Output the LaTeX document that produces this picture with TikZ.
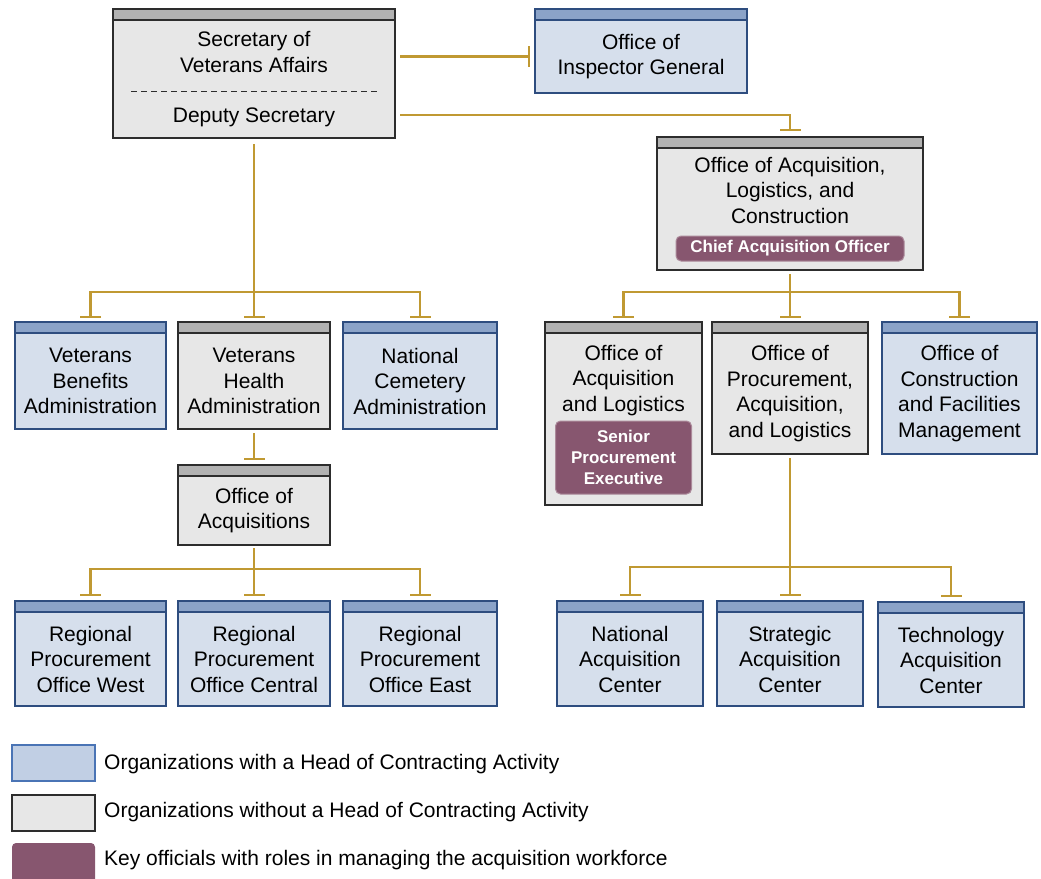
\documentclass[tikz,border=0pt]{standalone}
\usepackage{fontspec}
\setmainfont{Liberation Sans}
\usetikzlibrary{positioning,arrows.meta}

\definecolor{hcafill}{RGB}{214,223,236}
\definecolor{hcaline}{RGB}{46,77,127}
\definecolor{hcahead}{RGB}{139,163,200}
\definecolor{orgfill}{RGB}{231,231,231}
\definecolor{orgline}{RGB}{45,45,45}
\definecolor{orghead}{RGB}{178,178,178}
\definecolor{keyfill}{RGB}{135,86,111}
\definecolor{legfill}{RGB}{193,207,228}
\definecolor{legline}{RGB}{74,116,181}
\definecolor{connline}{RGB}{192,153,50}

\newcommand{\boxfont}{\fontsize{21}{25.5}\selectfont}
\newcommand{\keyfont}{\fontsize{17}{21}\selectfont\bfseries}

\begin{document}
\begin{tikzpicture}[
	%	style def
    x=1pt, y=-1pt,
    orgbox/.style={draw, line width=1.9pt, outer sep=0pt, inner sep=0pt, align=center, font=\boxfont},
    hca/.style={orgbox, fill=hcafill, draw=hcaline},
    nohca/.style={orgbox, fill=orgfill, draw=orgline},
    hcahdr/.style={fill=hcahead, draw=hcaline, line width=1.9pt},
    nohcahdr/.style={fill=orghead, draw=orgline, line width=1.9pt},
    keyrole/.style={fill=keyfill, draw=keyfill!70!white, line width=1pt, rounded corners=5pt, text=white, font=\keyfont, align=center, inner sep=0pt},
    conn/.style={draw=connline, line width=2.1pt},
    tee/.style={conn, -{Bar[width=21pt]}},
    legtext/.style={font=\boxfont, anchor=west, inner sep=0pt}
    ]
    \useasboundingbox (0,0) rectangle (1041,878);

	% top level
	\node[nohca, minimum width=282, minimum height=118] (sva) at (254,79)
	    {Secretary of\\Veterans Affairs\\[24.5pt]Deputy Secretary};
	\node[hca, minimum width=212, minimum height=73] (ig) at (641,56.5)
	    {Office of\\Inspector General};
	\node[nohca, minimum width=266, minimum height=122] (oalc) at (790,209)
	    {Office of Acquisition,\\Logistics, and\\Construction\\[12pt]\mbox{}};
	\node[keyrole, minimum width=228, minimum height=25] (cao) at ([yshift=21.5pt]oalc.south)
	    {Chief Acquisition Officer};

	% administrations
	\node[hca, minimum width=151, minimum height=96] (vba) at (90.5,381) {Veterans\\Benefits\\Administration};
	\node[nohca, minimum width=152, minimum height=96] (vha) at (254,381) {Veterans\\Health\\Administration};
	\node[hca, minimum width=154, minimum height=96] (nca) at (420,381) {National\\Cemetery\\Administration};
	\node[nohca, minimum width=152, minimum height=69] (oa) at (254,510.5) {Office of\\Acquisitions};

	% regional offices
	\node[hca, minimum width=151, minimum height=94] (rpow) at (90.5,659) {Regional\\Procurement\\Office West};
	\node[hca, minimum width=152, minimum height=94] (rpoc) at (254,659) {Regional\\Procurement\\Office Central};
	\node[hca, minimum width=154, minimum height=94] (rpoe) at (420,659) {Regional\\Procurement\\Office East};

	% under OALC
	\node[nohca, minimum width=157, minimum height=172] (oal) at (623.5,419)
	    {Office of\\Acquisition\\and Logistics\\[56pt]\mbox{}};
	\node[keyrole, minimum width=136, minimum height=73] (spe) at ([yshift=47.5pt]oal.south)
	    {Senior\\Procurement\\Executive};
	\node[nohca, minimum width=156, minimum height=121] (opal) at (790,393.5)
	    {Office of\\Procurement,\\Acquisition,\\and Logistics};
	\node[hca, minimum width=155, minimum height=121] (ocfm) at (959.5,393.5)
	    {Office of\\Construction\\and Facilities\\Management};

	% acquisition centers
	\node[hca, minimum width=146, minimum height=94] (nac) at (630,659) {National\\Acquisition\\Center};
	\node[hca, minimum width=146, minimum height=94] (sac) at (790,659) {Strategic\\Acquisition\\Center};
	\node[hca, minimum width=146, minimum height=94] (tac) at (951,660) {Technology\\Acquisition\\Center};

	% header bars
	\foreach \n in {ig,vba,nca,rpow,rpoc,rpoe,ocfm,nac,sac,tac}
	    \draw[hcahdr] (\n.north west) rectangle ([yshift=11pt]\n.north east);
	\foreach \n in {sva,oalc,vha,oa,oal,opal}
	    \draw[nohcahdr] (\n.north west) rectangle ([yshift=11pt]\n.north east);

	% dashed divider
	\draw[orgline, line width=1pt, dash pattern=on 6pt off 4pt]
	    ([xshift=18pt,yshift=-12pt]sva.west) -- ([xshift=-16pt,yshift=-12pt]sva.east);

	% connections
	\draw[tee] ([xshift=5pt]sva.east |- ig.west) -- ([xshift=-5pt]ig.west);
	\draw[tee] ([xshift=5pt,yshift=-36pt]sva.east) -| ([yshift=17pt]oalc.north);

	\coordinate (forkA) at (254,292);
	\draw[conn] ([yshift=-6pt]sva.south) -- (forkA);
	\foreach \n in {vba,vha,nca}
	    \draw[tee] (forkA) -| ([yshift=15pt]\n.north);
	\draw[tee] ([yshift=-4pt]vha.south) -- ([yshift=16pt]oa.north);

	\coordinate (forkB) at (254,569);
	\draw[conn] ([yshift=-3pt]oa.south) -- (forkB);
	\foreach \n in {rpow,rpoc,rpoe}
	    \draw[tee] (forkB) -| ([yshift=16pt]\n.north);

	\coordinate (forkC) at (790,292);
	\draw[conn] ([yshift=-4pt]oalc.south) -- (forkC);
	\foreach \n in {oal,opal,ocfm}
	    \draw[tee] (forkC) -| ([yshift=15pt]\n.north);

	\coordinate (forkD) at (790,567);
	\draw[conn] ([yshift=-4pt]opal.south) -- (forkD);
	\foreach \n in {nac,sac,tac}
	    \draw[tee] (forkD) -| ([yshift=16pt]\n.north);

	% legend
	\node[draw=legline, fill=legfill, line width=1.5pt, minimum width=83, minimum height=36] (leghca) at (53.5,763) {};
	\node[draw=orgline, fill=orgfill, line width=1.5pt, minimum width=83, minimum height=36] (legnohca) at (53.5,813) {};
	\node[fill=keyfill, rounded corners=4pt, minimum width=83, minimum height=44] (legkey) at (53.5,865) {};
	\node[legtext] (txthca) at (104,764) {Organizations with a Head of Contracting Activity};
	\node[legtext] (txtnohca) at (104,812) {Organizations without a Head of Contracting Activity};
	\node[legtext] (txtkey) at (104,860) {Key officials with roles in managing the acquisition workforce};
\end{tikzpicture}
\end{document}
